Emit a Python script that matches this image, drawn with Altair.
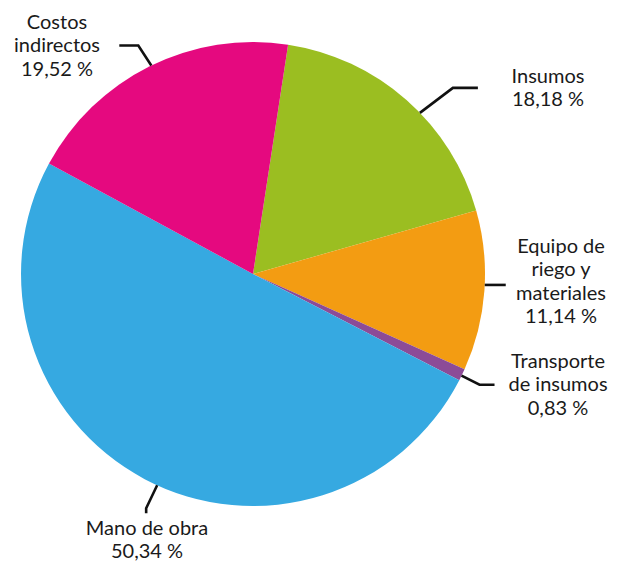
import math
import altair as alt
import pandas as pd

# ---- data ----
categories = ["Insumos", "Equipo de riego y materiales", "Transporte de insumos",
              "Mano de obra", "Costos indirectos"]
values = [18.18, 11.14, 0.83, 50.34, 19.52]
label_lines = [
    ["Insumos"],
    ["Equipo de", "riego y", "materiales"],
    ["Transporte", "de insumos"],
    ["Mano de obra"],
    ["Costos", "indirectos"],
]
colors = ["#9BBE21", "#F39C12", "#8C4B97", "#36A9E1", "#E5097F"]

# ---- layout (chart pixel coords; page margin is 8px) ----
W, H = 602, 555
CX, CY, R = 245, 266, 232
START = math.radians(8.7)
# leader: angle on rim (deg, clockwise from 12 o'clock), elbow offset, end offset
leaders = [
    (46.0, (33, -25), (58, -25)),
    (92.7, (0, 0), (21, 0)),
    (116.0, (18, 9), (33, 9)),
    (204.4, (-11, 23), (-11, 28)),
    (334.0, (-13, -20), (-32, -20)),
]
# label anchor: center x, first baseline y, relative to chart
label_pos = [(540, 75), (553, 245), (550, 360), (139, 527), (49, 21)]
LH = 23.3
FONT = "Lato"
FS = 20

def fmt(v):
    return f"{v:.2f}".replace(".", ",") + " %"

pie_df = pd.DataFrame({"cat": categories, "value": values,
                       "idx": list(range(len(values)))})

rows = []
for i, (ang, e, t) in enumerate(leaders):
    a = math.radians(ang)
    sx, sy = CX + R * math.sin(a), CY - R * math.cos(a)
    pts = [(sx, sy), (sx + e[0], sy + e[1]), (sx + t[0], sy + t[1])]
    for k, (x, y) in enumerate(pts):
        rows.append({"cat": categories[i], "k": k, "x": x, "y": y})
lead_df = pd.DataFrame(rows)

lab_df = pd.DataFrame({
    "cat": categories,
    "text": [lines + [fmt(v)] for lines, v in zip(label_lines, values)],
    "x": [p[0] for p in label_pos],
    "y": [p[1] for p in label_pos],
})

xs = alt.Scale(domain=[0, W], range=[0, W])
ys = alt.Scale(domain=[0, H], range=[0, H])

pie = alt.Chart(pie_df).mark_arc(outerRadius=R, stroke=None).encode(
    theta=alt.Theta("value:Q", stack=True,
                    scale=alt.Scale(range=[START, START + 2 * math.pi])),
    order=alt.Order("idx:Q"),
    color=alt.Color("cat:N", scale=alt.Scale(domain=categories, range=colors),
                    legend=None),
    x=alt.value(CX), y=alt.value(CY),
)

lines = alt.Chart(lead_df).mark_line(color="#111111", strokeWidth=2.6,
                                     strokeJoin="miter").encode(
    x=alt.X("x:Q", scale=xs, axis=None),
    y=alt.Y("y:Q", scale=ys, axis=None),
    detail="cat:N",
    order="k:Q",
)

labels = alt.Chart(lab_df).mark_text(
    font=FONT, fontSize=FS, color="#1a1a1a", align="center",
    baseline="alphabetic", lineHeight=LH,
).encode(
    x=alt.X("x:Q", scale=xs, axis=None),
    y=alt.Y("y:Q", scale=ys, axis=None),
    text="text",
)

chart = alt.layer(pie, lines, labels).properties(
    width=W, height=H, padding=0, autosize=alt.AutoSizeParams(type="none"),
).configure_view(stroke=None)

chart.save("out.html", embed_options={"renderer": "svg", "actions": False})
